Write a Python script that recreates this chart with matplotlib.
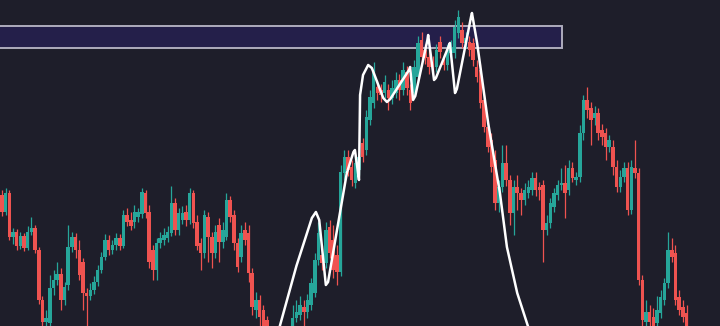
import matplotlib.pyplot as plt
import numpy as np

# candle prices (screen-like price scale, 0 = bottom edge of the chart)
opens = [131, 114, 133, 89, 94, 80, 90, 78, 94, 98, 76, 26, 4, 3, 38, 46, 52, 26, 41, 79,
         89, 76, 64, 33, 30, 36, 44, 56, 69, 86, 76, 81, 88, 80, 111, 106, 104, 109, 112, 133,
         114, 76, 56, 83, 86, 88, 93, 123, 96, 106, 114, 106, 133, 104, 83, 73, 109, 89, 73, 101,
         84, 89, 126, 111, 83, 69, 96, 93, 53, 16, 26, 16, 6, -14, -9, -19, -6, -12, -4, -9, 8,
         11, 19, 14, 21, 33, 66, 71, 63, 99, 86, 71, 54, 153, 169, 159, 143, 156, 183, 176, 206,
         223, 239, 236, 233, 236, 228, 233, 246, 236, 254, 236, 233, 249, 286, 276, 269, 264, 259, 284, 266,
         261, 273, 273, 293, 296, 283, 284, 283, 259, 256, 226, 199, 186, 166, 123, 139, 163, 146, 113, 139,
         133, 126, 133, 136, 148, 139, 141, 96, 103, 119, 131, 141, 143, 136, 158, 146, 149, 193, 226, 218,
         208, 213, 196, 193, 179, 179, 159, 139, 149, 158, 116, 158, 153, 46, 4, 14, 9, 3, 13, 26,
         43, 76, 73, 29, 19, 13]
closes = [114, 133, 89, 94, 80, 90, 78, 94, 98, 76, 26, 4, 8, 38, 46, 52, 26, 39, 79, 89,
          76, 51, 33, 30, 36, 44, 56, 69, 86, 76, 81, 88, 80, 111, 104, 100, 114, 114, 134, 113,
          64, 56, 83, 88, 91, 94, 123, 96, 113, 113, 106, 133, 103, 80, 73, 111, 89, 73, 94, 84,
          96, 126, 109, 83, 59, 93, 86, 53, 19, 26, 9, 0, -14, -9, -19, -6, -12, -4, -8, 8, 14,
          21, 14, 26, 43, 66, 93, 63, 96, 73, 56, 54, 154, 169, 156, 146, 163, 169, 169, 209, 229,
          256, 233, 231, 244, 228, 238, 246, 236, 256, 238, 223, 259, 283, 269, 268, 259, 259, 276, 274, 261,
          276, 279, 299, 309, 283, 288, 276, 266, 249, 223, 199, 179, 159, 123, 139, 163, 146, 113, 139, 133,
          126, 136, 139, 148, 136, 136, 96, 103, 123, 133, 141, 143, 133, 158, 148, 149, 193, 226, 216, 206,
          213, 193, 189, 179, 186, 159, 139, 149, 158, 116, 159, 153, 46, 6, 14, 4, 0, 16, 29, 43,
          76, 69, 26, 16, 9, -2]
highs = [136, 138, 136, 98, 97, 94, 93, 100, 109, 101, 79, 30, 16, 51, 56, 64, 58, 44, 101, 94,
         93, 86, 68, 38, 43, 50, 61, 74, 92, 91, 86, 93, 92, 116, 118, 114, 121, 118, 138, 136,
         121, 81, 88, 94, 98, 100, 140, 128, 118, 120, 121, 138, 136, 111, 88, 116, 114, 94, 101, 108,
         104, 133, 130, 116, 88, 101, 104, 101, 58, 34, 31, 21, 10, -4, -5, -2, -2, 0, 0, 21, 26,
         30, 26, 32, 48, 73, 104, 81, 104, 106, 101, 81, 161, 176, 176, 166, 171, 176, 188, 216, 236,
         264, 246, 242, 251, 242, 246, 254, 252, 264, 260, 242, 266, 290, 294, 282, 276, 270, 282, 290, 272,
         282, 286, 306, 316, 304, 294, 290, 288, 266, 262, 231, 206, 193, 176, 146, 181, 181, 151, 146, 151,
         138, 143, 146, 154, 154, 144, 146, 111, 128, 138, 146, 158, 161, 166, 164, 154, 201, 231, 239, 224,
         220, 218, 202, 198, 191, 186, 166, 156, 164, 164, 166, 186, 158, 51, 26, 21, 18, 30, 36, 48,
         94, 88, 81, 36, 26, 21]
lows = [110, 111, 86, 82, 76, 77, 75, 76, 91, 73, 22, 0, -2, 0, 31, 41, 16, 21, 36, 74,
        68, 46, 16, 0, 26, 32, 40, 53, 66, 71, 72, 76, 76, 78, 100, 96, 98, 104, 108, 108,
        58, 46, 46, 78, 81, 84, 90, 91, 91, 102, 100, 102, 98, 76, 56, 68, 64, 58, 68, 64,
        78, 86, 104, 76, 54, 64, 81, 44, 11, 8, 0, -9, -20, -18, -25, -24, -16, -16, -12, -14, 4,
        6, 0, 8, 16, 29, 61, 56, 58, 68, 48, 41, 50, 146, 150, 140, 138, 151, 164, 171, 201,
        218, 226, 224, 228, 216, 222, 228, 226, 231, 231, 216, 228, 244, 264, 262, 252, 254, 254, 268, 256,
        256, 268, 268, 288, 278, 278, 270, 260, 244, 218, 194, 174, 154, 116, 114, 134, 140, 101, 91, 116,
        111, 121, 128, 131, 130, 126, 64, 91, 98, 114, 126, 136, 108, 131, 144, 141, 144, 186, 208, 181,
        201, 186, 181, 166, 174, 151, 134, 134, 144, 111, 112, 148, 41, 0, 0, -4, -9, -4, 8, 21,
        38, 64, 21, 11, 4, -9]

# hand drawn sketch over the chart: bar index, price
sketch_x = [74.5, 75.5, 80.0, 84.2, 85.3, 86.2, 88.0, 88.6, 93.7, 95.5, 95.9, 96.5, 97.0, 97.3,
            98.1, 99.5, 100.5, 103.6, 104.6, 105.5, 110.6, 110.9, 111.7, 112.3, 115.6, 115.8, 117.4,
            117.9, 121.5, 121.7, 123.1, 123.6, 127.5, 127.7, 129.1, 132.1, 135.3, 137.2, 140.0, 142.9, 144.0]
sketch_price = [-14, 0, 60, 108, 114, 106, 41, 44, 153, 174, 176, 160, 146, 231,
                251, 261, 258, 228, 224, 227, 256, 259, 226, 230, 286, 291, 246,
                248, 281, 283, 233, 237, 310, 313, 283, 203, 133, 79, 33, 0, -9]

# supply zone
zone_low = 278
zone_high = 300
zone_end = 152.2

bg = '#1e1e2a'
up_color = '#26a69a'
down_color = '#ef5350'

o = np.array(opens)
c = np.array(closes)
idx = np.arange(len(o))
colors = [up_color if cc >= oo else down_color for oo, cc in zip(o, c)]

fig = plt.figure(figsize=(7.2, 3.26), dpi=100, facecolor=bg)
ax = fig.add_axes([0, 0, 1, 1])
ax.set_facecolor(bg)

ax.add_patch(plt.Rectangle((-1, zone_low), zone_end + 1, zone_high - zone_low,
                           facecolor='#241f4a', edgecolor='#aeacbd', linewidth=1.4, zorder=1))

ax.vlines(idx, lows, highs, colors=colors, linewidth=0.9, zorder=2)
ax.bar(idx, c - o, bottom=o, width=0.95, color=colors, linewidth=0, zorder=3)

ax.plot(sketch_x, sketch_price, color='white', linewidth=1.8,
        solid_joinstyle='round', solid_capstyle='round', zorder=4)

ax.set_xlim(-0.54, 195.1)
ax.set_ylim(0, 326)
ax.axis('off')

fig.savefig('out.png', dpi=100, facecolor=bg)
